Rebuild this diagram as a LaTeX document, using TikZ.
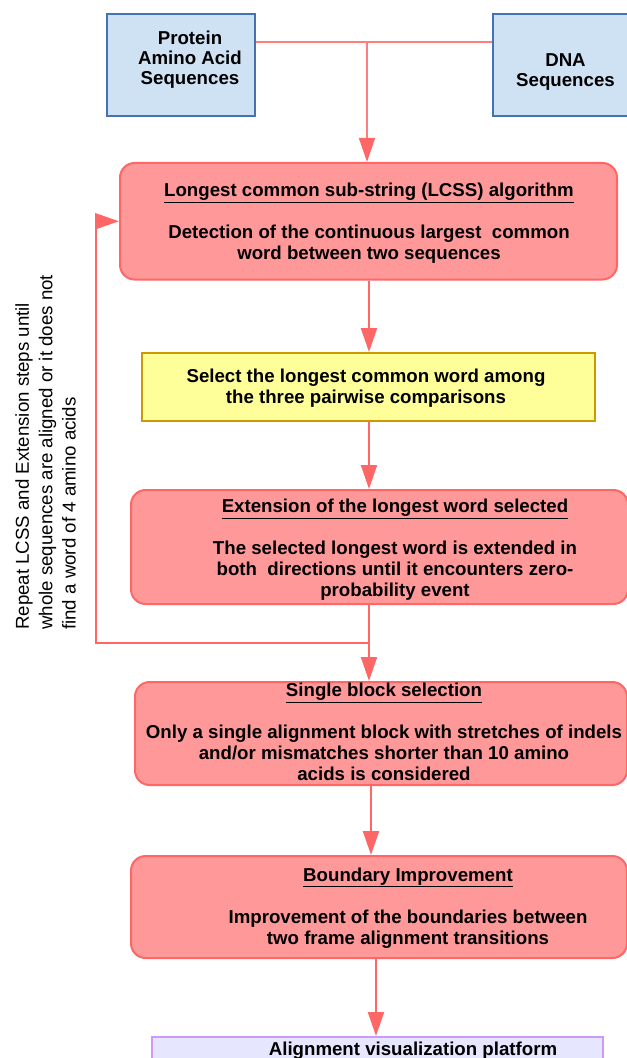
\documentclass[tikz,border=0pt]{standalone}
\usepackage{fontspec}
\setmainfont{Liberation Sans}
\usetikzlibrary{arrows.meta}
\definecolor{flowred}{RGB}{255,102,102}
\definecolor{boxred}{RGB}{255,153,153}
\definecolor{seqblue}{RGB}{207,226,243}
\definecolor{seqedge}{RGB}{69,114,176}
\definecolor{pickfill}{RGB}{255,255,153}
\definecolor{pickedge}{RGB}{204,153,0}
\definecolor{visfill}{RGB}{230,230,255}
\definecolor{visedge}{RGB}{204,153,255}
\tikzset{
  seqbox/.style={draw=seqedge,line width=0.9pt,fill=seqblue,inner sep=0pt},
  stepbox/.style={draw=flowred,line width=1.5pt,fill=boxred,rounded corners=11pt,inner sep=0pt},
  boxtext/.style={font=\bfseries\fontsize{14pt}{15.75pt}\selectfont,align=center,anchor=base,inner sep=0pt},
  flow/.style={draw=flowred,line width=1.5pt,->},
  feed/.style={draw=flowred!85,line width=1.1pt},
  >={Triangle[length=18pt,width=12pt,color=flowred]}
}
\begin{document}
\begin{tikzpicture}[x=0.75pt,y=-0.75pt]
	\useasboundingbox (0,0) rectangle (627,1058);
	\clip (0,0) rectangle (627,1058);
	% input sequences
	\node[seqbox,minimum width=111pt,minimum height=76.5pt] (protein) at (181,65) {};
	\node[seqbox,minimum width=111pt,minimum height=76.5pt] (dna) at (567,65) {};
	\node[boxtext,font=\bfseries\fontsize{14pt}{15pt}\selectfont] (proteintext) at (190,84) {Protein\\Amino Acid\\Sequences};
	\node[boxtext,font=\bfseries\fontsize{14pt}{15pt}\selectfont] (dnatext) at (565.5,86) {DNA\\Sequences};
	% steps
	\node[stepbox,minimum width=372.75pt,minimum height=87.4pt] (lcss) at (368.5,221.25) {};
	\node[draw=pickedge,line width=1.5pt,fill=pickfill,inner sep=0pt,minimum width=339.75pt,minimum height=51pt] (pick) at (368.5,387) {};
	\node[stepbox,minimum width=372.75pt,minimum height=85.5pt] (extend) at (379.5,547) {};
	\node[stepbox,minimum width=369pt,minimum height=77.25pt] (block) at (381,733.5) {};
	\node[stepbox,minimum width=372pt,minimum height=76.5pt] (bound) at (379,907) {};
	\node[draw=visedge,line width=1.5pt,fill=visfill,inner sep=0pt,minimum width=338.25pt,minimum height=45pt] (visual) at (377.5,1067) {};
	\node[boxtext] (lcsstext) at (369,259) {\underline{Longest common sub-string (LCSS) algorithm}\\[15.75pt]Detection of the continuous largest\ \ common\\word between two sequences};
	\node[boxtext] (picktext) at (366,403) {Select the longest common word among\\the three pairwise comparisons};
	\node[boxtext] (extendtext) at (395,596) {\underline{Extension of the longest word selected}\\[15.75pt]The selected longest word is extended in\\both\ \ directions until it encounters zero-\\probability event};
	\node[boxtext] (blocktext) at (384,780) {\underline{Single block selection}\\[15.75pt]Only a single alignment block with stretches of indels\\and/or mismatches shorter than 10 amino\\acids is considered};
	\node[boxtext] (boundtext) at (408,944) {\underline{Boundary Improvement}\\[15.75pt]Improvement of the boundaries between\\two frame alignment transitions};
	\node[boxtext] (visualtext) at (413,1055) {Alignment visualization platform};
	% connectors
	\coordinate (join) at (367,42);
	\coordinate (turn) at (369,643);
	\coordinate (back) at (96,643);
	\draw[feed] (protein.east |- join) -- (dna.west |- join);
	\draw[feed,->] (join) -- (join |- lcss.north);
	\draw[flow] (lcss.south -| turn) -- (pick.north -| turn);
	\draw[flow] (pick.south -| turn) -- (extend.north -| turn);
	\draw[flow] (extend.south -| turn) -- (block.north -| turn);
	\draw[flow] (turn) -- (back) |- (lcss.west);
	\draw[flow] (block.south -| 371,0) -- (bound.north -| 371,0);
	\draw[flow] (bound.south -| 376,0) -- (visual.north -| 376,0);
	\node[font=\fontsize{14pt}{17.6pt}\selectfont,align=left,rotate=90,anchor=north west,inner sep=0pt] (repeat) at (15,630) {Repeat LCSS and Extension steps until\\whole sequences are aligned or it does not\\find a word of 4 amino acids};
\end{tikzpicture}
\end{document}
